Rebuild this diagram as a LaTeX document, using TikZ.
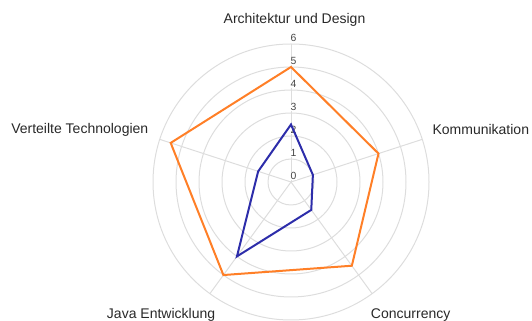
\documentclass[tikz,border=0pt]{standalone}
\usepackage{fontspec}
\setmainfont{Liberation Sans}
\usetikzlibrary{calc}
\definecolor{gridgray}{RGB}{221,221,221}
\definecolor{ticktext}{RGB}{70,70,70}
\definecolor{labeltext}{RGB}{40,40,40}
\definecolor{seriesorange}{RGB}{255,127,39}
\definecolor{seriesblue}{RGB}{45,45,170}
\tikzset{
  gridline/.style={draw=gridgray, line width=0.75pt},
  ticklabel/.style={font=\fontsize{7.8}{8}\selectfont, text=ticktext, fill=white, inner sep=0.5pt},
  axislabel/.style={font=\fontsize{10.5}{12}\selectfont, text=labeltext, inner sep=0pt},
  seriesline/.style={line width=1.5pt, line join=miter},
}
\begin{document}
\begin{tikzpicture}[x=0.75pt,y=0.75pt]
\useasboundingbox (0,0) rectangle (532,321);
\coordinate (c) at (291,139);
% grid rings
\foreach \k in {1,...,6} \draw[gridline] (c) circle ({\k*23});
% spokes
\foreach \a/\n in {90/A,18/K,-54/C,-126/J,162/V} {
  \path (c) ++(\a:138) coordinate (end\n);
  \draw[gridline] (c) -- (end\n);
}
% tick labels
\foreach \k in {0,...,6} \node[ticklabel] (t\k) at ($(c)+(2.5,{\k*23+6})$) {\k};
% orange series
\path (c) ++(90:{5*23}) coordinate (o1);
\path (c) ++(18:{4*23}) coordinate (o2);
\path (c) ++(-54:{4.5*23}) coordinate (o3);
\path (c) ++(-126:{5*23}) coordinate (o4);
\path (c) ++(162:{5.5*23}) coordinate (o5);
\draw[seriesline, seriesorange] (o1) -- (o2) -- (o3) -- (o4) -- (o5) -- cycle;
% blue series
\path (c) ++(90:{2.5*23}) coordinate (b1);
\path (c) ++(18:{1*23}) coordinate (b2);
\path (c) ++(-54:{1.5*23}) coordinate (b3);
\path (c) ++(-126:{4*23}) coordinate (b4);
\path (c) ++(162:{1.5*23}) coordinate (b5);
\draw[seriesline, seriesblue] (b1) -- (b2) -- (b3) -- (b4) -- (b5) -- cycle;
% axis labels
\node[axislabel, anchor=base] (lA) at (294.5,297) {Architektur und Design};
\node[axislabel, anchor=base west] (lK) at (432.3,186.7) {Kommunikation};
\node[axislabel, anchor=base west] (lV) at (11,187) {Verteilte Technologien};
\node[axislabel, anchor=base west] (lJ) at (106.7,2) {Java Entwicklung};
\node[axislabel, anchor=base west] (lC) at (370.7,2) {Concurrency};
\end{tikzpicture}
\end{document}
